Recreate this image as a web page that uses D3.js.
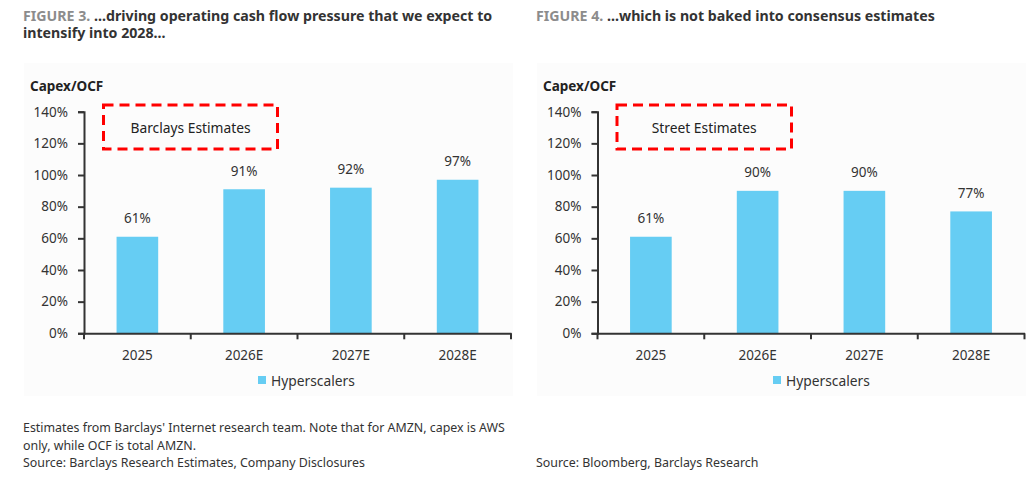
<!DOCTYPE html>
<html><head><meta charset="utf-8">
<script src="https://cdn.jsdelivr.net/npm/d3@7"></script>
<style>
html,body{margin:0;padding:0;background:#fff;}
text{font-family:"Noto Sans",sans-serif;}
</style></head>
<body><svg id="c" width="1035" height="481"></svg>
<script>
const categories = ["2025","2026E","2027E","2028E"];
const barclaysValues = [0.61, 0.91, 0.92, 0.97];
const streetValues = [0.61, 0.90, 0.90, 0.77];
const yTicks = [0,0.2,0.4,0.6,0.8,1.0,1.2,1.4];
const seriesName = "Hyperscalers";

const svg = d3.select("#c");
const BAR = "#66CDF3", TXT = "#333333";

function panel(o){
  const g = svg.append("g");
  g.append("rect").attr("x",o.px).attr("y",63).attr("width",489).attr("height",333).attr("fill","#fcfcfc");
  const t = g.append("text").attr("x",o.px-1).attr("y",21).attr("font-size",14.2).attr("font-weight",700).attr("fill",TXT);
  o.title.forEach((ln,i)=>{
    const ts = t.append("tspan").attr("x",o.px-1).attr("dy", i===0?0:17);
    if(i===0){ ts.append("tspan").attr("fill","#8c8c8c").text(o.fig+" "); }
    ts.append("tspan").text(ln);
  });
  g.append("text").attr("x",o.px+6).attr("y",91).attr("font-size",13.5).attr("font-weight",700).attr("fill","#222").text("Capex/OCF");

  const x = d3.scaleBand().domain(categories).range([o.ax, o.ax+427]).padding(0);
  const y = d3.scaleLinear().domain([0,1.4]).range([333.3,111.7]);
  const bw = x.bandwidth()*0.39;

  g.selectAll(".bar").data(o.values).join("rect")
    .attr("x",(d,i)=>x(categories[i])+x.bandwidth()/2-bw/2)
    .attr("y",d=>y(d)).attr("width",bw).attr("height",d=>y(0)-y(d)).attr("fill",BAR);
  g.selectAll(".lbl").data(o.values).join("text")
    .attr("x",(d,i)=>x(categories[i])+x.bandwidth()/2).attr("y",d=>y(d)-13.5)
    .attr("text-anchor","middle").attr("font-size",13.5).attr("fill",TXT)
    .text(d=>d3.format(".0%")(d));

  const ya = g.append("g").attr("transform",`translate(${o.ax},0)`)
    .call(d3.axisLeft(y).tickValues(yTicks).tickFormat(d3.format(".0%")).tickSize(6).tickPadding(10));
  ya.select(".domain").attr("stroke","#333").attr("stroke-width",2);
  ya.selectAll(".tick line").attr("stroke","#333").attr("stroke-width",2);
  ya.selectAll("text").attr("font-size",13.5).attr("fill",TXT).attr("font-family","Noto Sans");

  const xa = g.append("g").attr("transform",`translate(0,${y(0)})`)
    .call(d3.axisBottom(x).tickSize(0).tickPadding(17));
  xa.select(".domain").attr("stroke","#333").attr("stroke-width",2);
  xa.selectAll("text").attr("font-size",13.5).attr("fill",TXT).attr("font-family","Noto Sans");
  const edges = categories.map(c=>x(c)).concat([o.ax+427]);
  g.selectAll(".xt").data(edges).join("line")
    .attr("x1",d=>d).attr("x2",d=>d).attr("y1",y(0)).attr("y2",y(0)+6)
    .attr("stroke","#333").attr("stroke-width",2);

  g.append("rect").attr("x",o.bx).attr("y",105).attr("width",o.bw).attr("height",44)
    .attr("fill","none").attr("stroke","#ff0000").attr("stroke-width",3).attr("stroke-dasharray","10,6");
  g.append("text").attr("x",o.bx+o.bw/2).attr("y",133).attr("text-anchor","middle")
    .attr("font-size",13.8).attr("fill","#222").text(o.box);

  g.append("rect").attr("x",o.lx).attr("y",376).attr("width",8).attr("height",8).attr("fill",BAR);
  g.append("text").attr("x",o.lx+13).attr("y",385.5).attr("font-size",13.8).attr("fill",TXT).text(seriesName);

  const f = g.append("text").attr("x",o.px-1).attr("font-size",12.4).attr("fill",TXT);
  o.foot.forEach(([yy,s])=>f.append("tspan").attr("x",o.px-1).attr("y",yy).text(s));
}

panel({px:24, ax:84, bx:103.5, bw:174, lx:258, fig:"FIGURE 3.", values:barclaysValues,
  title:["...driving operating cash flow pressure that we expect to","intensify into 2028..."],
  box:"Barclays Estimates",
  foot:[[432,"Estimates from Barclays' Internet research team. Note that for AMZN, capex is AWS"],[450,"only, while OCF is total AMZN."],[467,"Source: Barclays Research Estimates, Company Disclosures"]]});
panel({px:537, ax:597.5, bx:617, bw:174.5, lx:773, fig:"FIGURE 4.", values:streetValues,
  title:["...which is not baked into consensus estimates"],
  box:"Street Estimates",
  foot:[[467,"Source: Bloomberg, Barclays Research"]]});
</script></body></html>
